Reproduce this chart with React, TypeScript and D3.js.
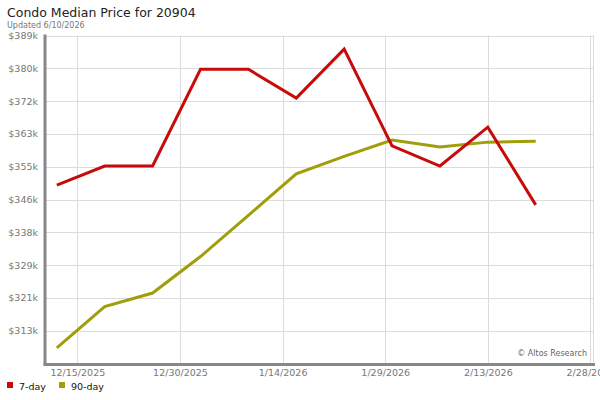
import React, { useRef, useEffect } from 'react';
import * as d3 from 'd3';

// weekly dates (UTC), values in $k
const dates = [
  '2025-12-12', '2025-12-19', '2025-12-26', '2026-01-02', '2026-01-09', '2026-01-16',
  '2026-01-23', '2026-01-30', '2026-02-06', '2026-02-13', '2026-02-20',
];
const sevenDay = [350.5, 355.4, 355.4, 380.3, 380.3, 372.9, 385.5, 360.6, 355.4, 365.4, 345.4];
const ninetyDay = [308.6, 319.2, 322.7, 332.1, 342.7, 353.4, 357.9, 362.1, 360.3, 361.55, 361.8];

const yTickValues = [313, 321.44, 329.89, 338.33, 346.78, 355.22, 363.67, 372.11, 380.56, 389];
const yTickLabels = ['$313k', '$321k', '$329k', '$338k', '$346k', '$355k', '$363k', '$372k', '$380k', '$389k'];
const xTickDates = ['2025-12-15', '2025-12-30', '2026-01-14', '2026-01-29', '2026-02-13', '2026-02-28'];
const xTickLabels = ['12/15/2025', '12/30/2025', '1/14/2026', '1/29/2026', '2/13/2026', '2/28/2026'];

const series = [
  { name: '7-day', values: sevenDay, color: '#c80a0a' },
  { name: '90-day', values: ninetyDay, color: '#a09e0a' },
];

const parse = d3.utcParse('%Y-%m-%d');

function App() {
  const svgRef = useRef(null);

  useEffect(() => {
    document.body.style.margin = '0';
    const w = 600;
    const h = 400;
    const left = 46;
    const right = 593;
    const top = 35.5;
    const bottom = 363.5;
    const svg = d3.select(svgRef.current);
    svg.selectAll('*').remove();
    svg.attr('width', w).attr('height', h).style('display', 'block')
      .style('font-family', 'DejaVu Sans, sans-serif');

    const xScale = d3
      .scaleUtc()
      .domain([new Date(Date.UTC(2025, 11, 10, 10)), new Date(Date.UTC(2026, 1, 28, 9))])
      .range([left, right]);
    const yScale = d3.scaleLinear().domain([304.56, 389]).range([bottom, top]);

    // title
    svg.append('text').attr('x', 7).attr('y', 17).attr('font-size', 12.5).attr('fill', '#222')
      .text('Condo Median Price for 20904');
    svg.append('text').attr('x', 7).attr('y', 28).attr('font-size', 8).attr('fill', '#777')
      .text('Updated 6/10/2026');

    // grid
    const grid = svg.append('g').attr('stroke', '#dcdcdc').attr('stroke-width', 1);
    yTickValues.forEach((v) => {
      const y = Math.round(yScale(v)) + 0.5;
      grid.append('line').attr('x1', left).attr('x2', right).attr('y1', y).attr('y2', y);
    });
    xTickDates.forEach((d) => {
      const x = Math.round(xScale(parse(d))) + 0.5;
      grid.append('line').attr('x1', x).attr('x2', x).attr('y1', top).attr('y2', bottom);
    });
    grid.append('line').attr('x1', right + 0.5).attr('x2', right + 0.5).attr('y1', top).attr('y2', bottom);

    // axes
    const yAxis = d3.axisLeft(yScale).tickValues(yTickValues)
      .tickFormat((d, i) => yTickLabels[i]).tickSize(0).tickPadding(8);
    const gy = svg.append('g').attr('transform', `translate(${left},0)`).call(yAxis);
    gy.select('.domain').remove();
    gy.selectAll('text').attr('fill', '#777').attr('font-size', 9.5).attr('font-family', 'DejaVu Sans, sans-serif');

    const xAxis = d3.axisBottom(xScale).tickValues(xTickDates.map((d) => parse(d)))
      .tickFormat((d, i) => xTickLabels[i]).tickSize(0).tickPadding(6);
    const gx = svg.append('g').attr('transform', `translate(0,${bottom})`).call(xAxis);
    gx.select('.domain').remove();
    gx.selectAll('text').attr('fill', '#777').attr('font-size', 9.5).attr('font-family', 'DejaVu Sans, sans-serif');

    svg.append('line').attr('x1', left - 1).attr('x2', left - 1).attr('y1', top - 1).attr('y2', bottom + 2)
      .attr('stroke', '#888').attr('stroke-width', 3);
    svg.append('line').attr('x1', left - 2.5).attr('x2', right + 2).attr('y1', bottom + 1).attr('y2', bottom + 1)
      .attr('stroke', '#888').attr('stroke-width', 3);

    svg.append('text').attr('x', 587).attr('y', 356).attr('text-anchor', 'end')
      .attr('font-size', 8).attr('fill', '#666').text('\u00a9 Altos Research');

    // lines
    const line = d3
      .line<number>()
      .x((d, i) => xScale(parse(dates[i])))
      .y((d) => yScale(d));
    series.slice().reverse().forEach((s) => {
      svg.append('path').attr('d', line(s.values)).attr('fill', 'none')
        .attr('stroke', s.color).attr('stroke-width', 3).attr('stroke-linejoin', 'miter');
    });

    // legend
    const legendX = [7, 59];
    series.forEach((s, i) => {
      svg.append('rect').attr('x', legendX[i]).attr('y', 382).attr('width', 6).attr('height', 6).attr('fill', s.color);
      svg.append('text').attr('x', legendX[i] + 12).attr('y', 390).attr('font-size', 9.5).attr('fill', '#111').text(s.name);
    });
  }, []);

  return <svg ref={svgRef}></svg>;
}

export default App;
